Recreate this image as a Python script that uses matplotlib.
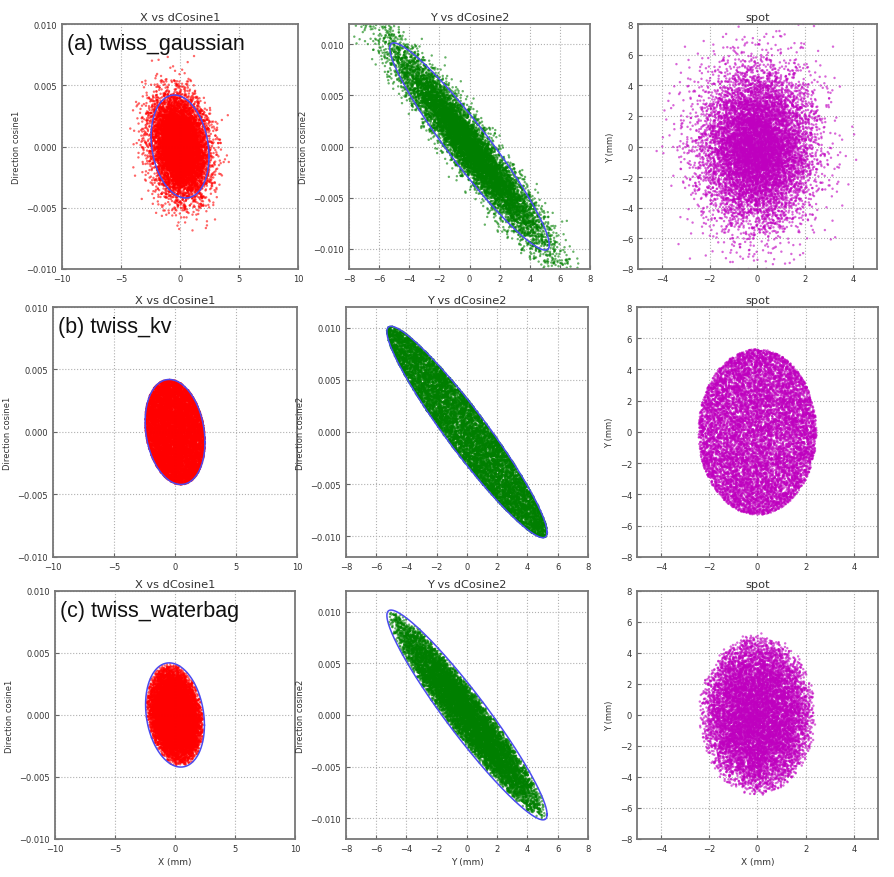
import numpy as np
import matplotlib
matplotlib.use("Agg")
import matplotlib.pyplot as plt

# ---- data -----------------------------------------------------------------
dist_names = ["(a) twiss_gaussian", "(b) twiss_kv", "(c) twiss_waterbag"]
dist_kinds = ["gaussian", "kv", "waterbag"]
n_particles = 10000

# Twiss parameters (alpha, beta [mm/rad], emittance [mm*rad]) estimated
# from the drawn boundary ellipses (X plane, Y plane)
twiss_alpha = [0.20, 3.0]
twiss_beta = [595.0, 1650.0]
twiss_emit = [0.0101, 0.017]
gauss_rms_fraction = 1 / 2.15  # gaussian rms relative to boundary ellipse

titles = ["X vs dCosine1", "Y vs dCosine2", "spot"]
ylabels = ["Direction cosine1", "Direction cosine2", "Y (mm)"]
xlabels = ["X (mm)", "Y (mm)", "X (mm)"]
xlims = [(-10, 10), (-8, 8), (-5, 5)]
ylims = [(-0.010, 0.010), (-0.012, 0.012), (-8, 8)]
xticks = [[-10, -5, 0, 5, 10], [-8, -6, -4, -2, 0, 2, 4, 6, 8], [-4, -2, 0, 2, 4]]
yticks = [[-0.010, -0.005, 0.000, 0.005, 0.010],
          [-0.010, -0.005, 0.000, 0.005, 0.010],
          [-8, -6, -4, -2, 0, 2, 4, 6, 8]]
colors = ["#ff0000", "#007f00", "#bf00bf"]
ellipse_color = "#4b4bf0"

# ---- particle sampling (normalised 4D coordinates) ------------------------
rng = np.random.default_rng(7)


def sample(kind, n):
    g = rng.standard_normal((n, 4))
    if kind == "gaussian":
        return g * gauss_rms_fraction
    u = g / np.linalg.norm(g, axis=1, keepdims=True)
    if kind == "kv":
        return u
    r = rng.random(n) ** 0.25
    return u * r[:, None]


def to_phys(u, p):
    a, b, e = twiss_alpha[p], twiss_beta[p], twiss_emit[p]
    x = np.sqrt(b * e) * u[:, 0]
    xp = np.sqrt(e / b) * (u[:, 1] - a * u[:, 0])
    return x, xp


def ellipse(p):
    t = np.linspace(0, 2 * np.pi, 400)
    u = np.column_stack([np.cos(t), np.sin(t)])
    return to_phys(u, p)


# ---- figure ----------------------------------------------------------------
fig = plt.figure(figsize=(8.94, 8.78), dpi=100)

row_pos = [(0.6925, 0.279), (0.3645, 0.2847), (0.0433, 0.2825)]
col_pos = [[(0.0694, 0.264), (0.3904, 0.2696), (0.7136, 0.2673)],
           [(0.0593, 0.273), (0.3870, 0.2707), (0.7125, 0.2696)],
           [(0.0615, 0.2685), (0.3870, 0.2707), (0.7125, 0.2696)]]

for r, kind in enumerate(dist_kinds):
    u = sample(kind, n_particles)
    x, xp = to_phys(u[:, 0:2], 0)
    y, yp = to_phys(u[:, 2:4], 1)
    series = [(x, xp), (y, yp), (x, y)]
    for c in range(3):
        bottom, h = row_pos[r]
        left, w = col_pos[r][c]
        ax = fig.add_axes([left, bottom, w, h])
        sx, sy = series[c]
        ax.scatter(sx, sy, s=3, c=colors[c], edgecolors="none",
                   alpha=0.6, rasterized=True)
        if c < 2:
            ex, ey = ellipse(c)
            ax.plot(ex, ey, color=ellipse_color, lw=1.1)
        ax.set_xlim(*xlims[c])
        ax.set_ylim(*ylims[c])
        ax.set_xticks(xticks[c])
        ax.set_yticks(yticks[c])
        if c < 2:
            ax.set_yticklabels(["\u22120.010", "\u22120.005", "0.000", "0.005", "0.010"])
        ax.grid(True, linestyle=":", color="#b0b0b0", lw=0.8)
        ax.set_axisbelow(True)
        ax.tick_params(direction="in", labelsize=6, colors="#666666",
                       labelcolor="#333333", length=3)
        for sp in ax.spines.values():
            sp.set_color("#777777")
            sp.set_linewidth(1.3)
        ax.set_title(titles[c], fontsize=8.2, color="#333333", pad=3)
        ax.set_ylabel(ylabels[c], fontsize=6, color="#333333", labelpad=4)
        if r == 2:
            ax.set_xlabel(xlabels[c], fontsize=6.5, color="#333333", labelpad=3)
        if c == 0:
            ax.text(0.02, 0.965, dist_names[r], transform=ax.transAxes,
                    fontsize=15.5, family="Liberation Sans", color="#111111",
                    ha="left", va="top")

fig.savefig("out.png", dpi=100)
